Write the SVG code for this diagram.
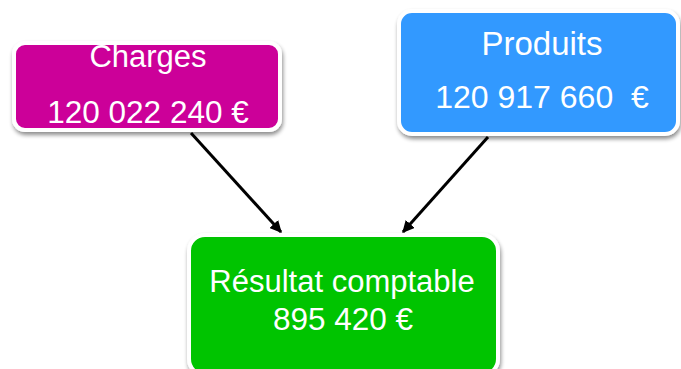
<svg xmlns="http://www.w3.org/2000/svg" width="681" height="369" viewBox="0 0 681 369">
<defs>
<style>
.box{stroke:#ffffff;stroke-width:4;filter:url(#sh)}
.t{font-family:"Liberation Sans",Arial,sans-serif;fill:#ffffff;text-anchor:middle}
.c{stroke:#000000;stroke-width:3;fill:none;marker-end:url(#ah)}
</style>
<filter id="sh" x="-10%" y="-10%" width="120%" height="130%">
<feGaussianBlur in="SourceAlpha" stdDeviation="2"/>
<feOffset dx="1" dy="3" result="b"/>
<feComponentTransfer><feFuncA type="linear" slope="0.45"/></feComponentTransfer>
<feMerge><feMergeNode/><feMergeNode in="SourceGraphic"/></feMerge>
</filter>
<marker id="ah" viewBox="0 0 10 10" refX="9" refY="5" markerWidth="4" markerHeight="4" orient="auto" markerUnits="strokeWidth">
<path d="M0,0 L10,5 L0,10 Z" fill="#000000"/>
</marker>
</defs>
<g id="connectors">
<line class="c" x1="191" y1="133" x2="281" y2="232"/>
<line class="c" x1="488" y1="137" x2="403" y2="232"/>
</g>
<g id="charges">
<rect class="box" x="14" y="43" width="266" height="87" rx="11" fill="#CC0099"/>
<text class="t" x="148" y="67" font-size="31">Charges</text>
<text class="t" x="148" y="123" font-size="31.5">120 022 240 €</text>
</g>
<g id="produits">
<rect class="box" x="399" y="11" width="279" height="123" rx="13" fill="#3399FF"/>
<text class="t" x="542" y="55" font-size="33">Produits</text>
<text class="t" x="542" y="108" font-size="32" xml:space="preserve">120 917 660  €</text>
</g>
<g id="resultat">
<rect class="box" x="189" y="235" width="309" height="140" rx="16" fill="#00C400"/>
<text class="t" x="342" y="292" font-size="31">Résultat comptable</text>
<text class="t" x="343" y="330" font-size="31.5">895 420 €</text>
</g>
</svg>
